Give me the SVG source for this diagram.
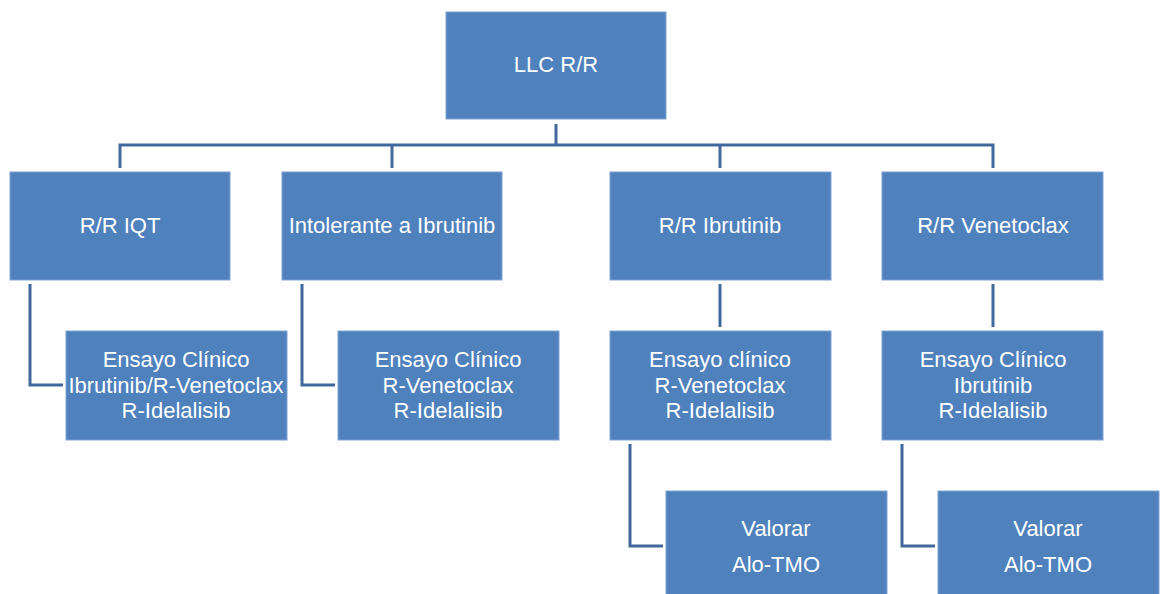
<svg xmlns="http://www.w3.org/2000/svg" width="1163" height="594" viewBox="0 0 1163 594">
<style>
.box{fill:#4F81BD;stroke:#7FA3D4;stroke-width:1}
.t{font-family:"Liberation Sans",Arial,sans-serif;font-size:22px;fill:#FFFFFF;text-anchor:middle}
.c{fill:none;stroke:#41699D;stroke-width:3}
</style>
<rect width="1163" height="594" fill="#FFFFFF"/>
<g id="connectors">
<path class="c" d="M556,124 V145 M120,168 V145 H993 V168 M392,145 V168 M720,145 V168"/>
<path class="c" d="M30,284 V385 H63"/>
<path class="c" d="M302,284 V385 H335"/>
<path class="c" d="M720,284 V327"/>
<path class="c" d="M993,284 V327"/>
<path class="c" d="M630,444 V546 H663"/>
<path class="c" d="M902,444 V546 H935"/>
</g>
<g id="n-llc"><rect class="box" x="446" y="12" width="220" height="107"/><text class="t" x="556" y="72">LLC R/R</text></g>
<g id="n-rriqt"><rect class="box" x="10" y="172" width="220" height="108"/><text class="t" x="120" y="233">R/R IQT</text></g>
<g id="n-intol"><rect class="box" x="282" y="172" width="220" height="108"/><text class="t" x="392" y="233">Intolerante a Ibrutinib</text></g>
<g id="n-rribr"><rect class="box" x="610" y="172" width="221" height="108"/><text class="t" x="720" y="233">R/R Ibrutinib</text></g>
<g id="n-rrven"><rect class="box" x="882" y="172" width="221" height="108"/><text class="t" x="993" y="233">R/R Venetoclax</text></g>
<g id="n-e1"><rect class="box" x="66" y="331" width="221" height="109"/><text class="t" x="176" y="367">Ensayo Clínico</text><text class="t" x="176" y="392.5">Ibrutinib/R-Venetoclax</text><text class="t" x="176" y="418">R-Idelalisib</text></g>
<g id="n-e2"><rect class="box" x="338" y="331" width="221" height="109"/><text class="t" x="448" y="367">Ensayo Clínico</text><text class="t" x="448" y="392.5">R-Venetoclax</text><text class="t" x="448" y="418">R-Idelalisib</text></g>
<g id="n-e3"><rect class="box" x="610" y="331" width="221" height="109"/><text class="t" x="720" y="367">Ensayo clínico</text><text class="t" x="720" y="392.5">R-Venetoclax</text><text class="t" x="720" y="418">R-Idelalisib</text></g>
<g id="n-e4"><rect class="box" x="882" y="331" width="221" height="109"/><text class="t" x="993" y="367">Ensayo Clínico</text><text class="t" x="993" y="392.5">Ibrutinib</text><text class="t" x="993" y="418">R-Idelalisib</text></g>
<g id="n-v1"><rect class="box" x="666" y="491" width="221" height="110"/><text class="t" x="776" y="536">Valorar</text><text class="t" x="776" y="572">Alo-TMO</text></g>
<g id="n-v2"><rect class="box" x="938" y="491" width="221" height="110"/><text class="t" x="1048" y="536">Valorar</text><text class="t" x="1048" y="572">Alo-TMO</text></g>
</svg>
